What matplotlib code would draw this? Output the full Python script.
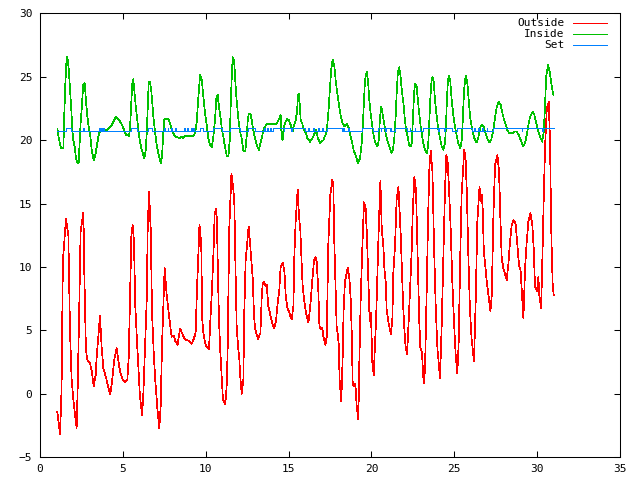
import matplotlib
matplotlib.use("Agg")
import matplotlib.pyplot as plt

# Outside temperature (red) at its turning points
outside_t = [1.04, 1.21, 1.30, 1.38, 1.57, 1.71, 1.81, 1.91, 2.03, 2.21, 2.27, 2.37, 2.45, 2.62,
             2.67, 2.77, 2.85, 3.02, 3.12, 3.24, 3.36, 3.42, 3.52, 3.62, 3.72, 3.82, 4.02, 4.14,
             4.24, 4.36, 4.48, 4.63, 4.75, 4.83, 4.99, 5.13, 5.27, 5.35, 5.43, 5.51, 5.59, 5.67,
             5.75, 5.87, 6.03, 6.16, 6.24, 6.34, 6.44, 6.50, 6.58, 6.68, 6.76, 6.88, 6.96, 7.08,
             7.20, 7.28, 7.36, 7.44, 7.52, 7.64, 7.72, 7.80, 7.94, 8.08, 8.15, 8.30, 8.45, 8.60,
             8.75, 8.95, 9.15, 9.27, 9.39, 9.47, 9.55, 9.62, 9.68, 9.74, 9.78, 9.84, 9.94, 10.04,
             10.20, 10.26, 10.38, 10.48, 10.54, 10.64, 10.68, 10.74, 10.80, 10.88, 10.96, 11.04,
             11.18, 11.26, 11.32, 11.38, 11.42, 11.55, 11.67, 11.73, 11.79, 11.87, 11.97, 12.03,
             12.09, 12.17, 12.27, 12.33, 12.41, 12.47, 12.59, 12.67, 12.77, 12.83, 12.91, 12.97,
             13.05, 13.16, 13.30, 13.38, 13.44, 13.52, 13.62, 13.68, 13.78, 13.92, 14.02, 14.12,
             14.24, 14.32, 14.44, 14.52, 14.65, 14.75, 14.83, 14.93, 15.05, 15.13, 15.19, 15.29,
             15.35, 15.43, 15.55, 15.63, 15.71, 15.79, 15.85, 15.95, 16.05, 16.20, 16.34, 16.44,
             16.54, 16.62, 16.70, 16.80, 16.86, 16.94, 17.04, 17.10, 17.22, 17.30, 17.40, 17.52,
             17.64, 17.70, 17.76, 17.82, 17.90, 17.96, 18.02, 18.08, 18.18, 18.26, 18.32, 18.40,
             18.57, 18.67, 18.75, 18.81, 18.87, 18.95, 19.03, 19.11, 19.21, 19.27, 19.35, 19.43,
             19.49, 19.55, 19.65, 19.73, 19.81, 19.87, 19.91, 19.97, 20.05, 20.14, 20.20, 20.28,
             20.36, 20.44, 20.54, 20.62, 20.72, 20.78, 20.86, 20.92, 21.02, 21.12, 21.18, 21.26,
             21.32, 21.42, 21.52, 21.63, 21.69, 21.77, 21.85, 21.93, 21.99, 22.05, 22.15, 22.23,
             22.33, 22.43, 22.49, 22.59, 22.69, 22.75, 22.81, 22.89, 22.95, 23.05, 23.15, 23.23,
             23.33, 23.42, 23.50, 23.58, 23.68, 23.78, 23.88, 23.98, 24.14, 24.24, 24.34, 24.44,
             24.52, 24.60, 24.68, 24.78, 24.88, 24.98, 25.08, 25.18, 25.26, 25.36, 25.44, 25.60,
             25.68, 25.76, 25.84, 25.94, 26.04, 26.19, 26.29, 26.39, 26.52, 26.58, 26.66, 26.72,
             26.78, 26.86, 26.96, 27.06, 27.18, 27.26, 27.36, 27.46, 27.60, 27.70, 27.78, 27.86,
             27.96, 28.16, 28.26, 28.36, 28.46, 28.58, 28.70, 28.82, 28.90, 29.00, 29.17, 29.27,
             29.37, 29.47, 29.59, 29.71, 29.79, 29.87, 29.99, 30.07, 30.13, 30.24, 30.32, 30.40,
             30.48, 30.58, 30.70, 30.78, 30.84, 30.88, 30.94, 31.00]
outside_v = [-1.4, -3.15, 0.3, 10.5, 13.8, 12.5, 4.9, 1.1, -0.7, -2.7, 0.3, 6.9, 12.8, 14.3,
             9.8, 3.5, 2.7, 2.4, 1.8, 0.6, 1.5, 2.9, 4.5, 6.15, 3.7, 2.05, 1.1, 0.4,
             0.0, 1.1, 2.7, 3.6, 2.4, 1.8, 1.1, 0.9, 1.1, 2.8, 7.4, 12.4, 13.3, 12.0,
             6.9, 3.7, -0.2, -1.65, 0.1, 3.7, 7.4, 13.2, 15.9, 13.0, 6.4, 2.7, 1.0, -1.1,
             -2.7, -1.0, 3.7, 6.9, 9.9, 7.9, 6.9, 6.0, 4.5, 4.6, 4.2, 3.85, 5.15, 4.7,
             4.3, 4.2, 3.94, 4.3, 4.8, 8.2, 10.8, 13.3, 12.7, 11.1, 6.1, 4.95, 4.15, 3.73,
             3.55, 5.3, 8.3, 11.6, 14.2, 14.6, 13.3, 9.25, 5.83, 3.33, 1.5, -0.47,
             -0.8, 0.5, 3.2, 9.5, 13.05, 17.33, 16.1, 14.9, 10.3, 5.18, 3.47, 2.7,
             1.24, 0.0, 1.1, 6.6, 10.56, 11.4, 13.2, 12.0, 10.2, 9.25, 6.36, 5.2,
             4.8, 4.33, 4.8, 7.7, 8.7, 8.85, 8.5, 8.6, 6.9, 6.1, 5.57, 5.18,
             5.7, 6.9, 8.2, 10.0, 10.35, 9.6, 7.7, 6.8, 6.4, 6.0, 5.9, 6.9,
             10.95, 13.7, 16.1, 13.97, 12.9, 10.2, 8.5, 7.3, 6.36, 5.62, 7.4, 9.1,
             10.56, 10.77, 10.4, 7.94, 5.36, 5.1, 5.2, 4.5, 3.86, 4.5, 11.9, 15.7,
             16.86, 16.4, 11.9, 8.98, 5.3, 4.8, 4.0, 1.1, -0.6, 2.7, 6.6, 8.85,
             9.95, 9.1, 7.4, 4.8, 0.7, 0.57, 0.8, -1.0, -2.0, 2.55, 7.4, 10.8,
             12.9, 15.1, 14.6, 12.4, 8.98, 6.6, 5.7, 6.4, 2.55, 1.47, 3.47, 5.83,
             9.5, 13.05, 16.8, 13.05, 11.6, 9.9, 8.85, 6.6, 5.7, 5.04, 4.73, 5.83,
             9.5, 11.6, 15.3, 16.3, 14.7, 12.4, 9.25, 6.5, 5.04, 3.86, 3.13, 5.3,
             8.2, 11.35, 14.3, 17.08, 16.0, 12.7, 9.6, 5.57, 3.7, 3.2, 0.84, 1.8,
             7.9, 14.0, 18.0, 19.15, 17.5, 11.5, 6.75, 3.6, 1.24, 5.44, 10.95, 16.2,
             18.83, 18.2, 16.2, 13.05, 8.85, 5.7, 3.1, 1.63, 3.9, 10.95, 15.7, 19.23,
             18.6, 15.7, 11.2, 6.75, 4.38, 2.55, 7.28, 13.6, 16.34, 15.2, 15.7, 14.4,
             11.2, 10.2, 8.85, 7.8, 6.5, 7.8, 14.1, 18.05, 18.83, 17.5, 13.85, 10.7,
             9.9, 8.98, 10.2, 12.0, 13.3, 13.7, 13.4, 11.5, 10.2, 9.7, 5.96, 9.9,
             12.0, 13.6, 14.24, 13.3, 11.5, 8.46, 8.1, 9.2, 7.8, 6.75, 10.95, 15.7,
             19.6, 22.5, 23.03, 19.6, 13.6, 11.2, 8.46, 7.8]

# Inside temperature (green): (day, deg C)
inside = [(1.05, 20.86), (1.10, 20.41), (1.20, 19.75), (1.27, 19.36), (1.41, 19.36), (1.47, 22.25),
          (1.53, 24.48), (1.59, 26.06), (1.65, 26.58), (1.73, 25.66), (1.81, 23.96), (1.89, 22.38),
          (1.95, 20.8), (2.01, 20.0), (2.09, 19.49), (2.17, 18.57), (2.27, 18.18), (2.33, 18.18),
          (2.37, 19.23), (2.45, 21.33), (2.51, 22.38), (2.61, 24.35), (2.70, 24.48), (2.78, 23.0),
          (2.86, 21.85), (2.96, 20.8), (3.04, 20.28), (3.12, 19.23), (3.24, 18.39), (3.34, 18.83),
          (3.44, 19.62), (3.54, 20.41), (3.64, 20.8), (3.78, 20.86), (4.02, 20.8), (4.22, 21.0),
          (4.34, 21.2), (4.47, 21.59), (4.59, 21.85), (4.71, 21.7), (4.83, 21.46), (4.95, 21.2),
          (5.07, 20.8), (5.19, 20.41), (5.37, 20.33), (5.43, 20.94), (5.49, 22.51), (5.57, 24.48),
          (5.63, 24.8), (5.71, 23.69), (5.79, 22.51), (5.87, 21.59), (5.95, 20.67), (6.03, 19.88),
          (6.14, 19.23), (6.30, 18.57), (6.38, 19.23), (6.44, 20.54), (6.50, 22.64), (6.56, 24.6),
          (6.62, 24.6), (6.70, 24.09), (6.78, 22.9), (6.84, 21.85), (6.94, 20.67), (7.04, 19.62),
          (7.14, 18.97), (7.28, 18.18), (7.36, 18.7), (7.44, 20.54), (7.50, 21.65), (7.75, 21.65),
          (7.85, 21.33), (7.95, 20.8), (8.09, 20.41), (8.25, 20.23), (8.45, 20.15), (8.57, 20.28),
          (8.65, 20.15), (8.75, 20.33), (8.95, 20.33), (9.25, 20.33), (9.35, 20.54), (9.45, 21.33),
          (9.56, 23.43), (9.66, 25.14), (9.76, 24.75), (9.86, 23.43), (9.96, 22.12), (10.06, 21.2),
          (10.16, 20.15), (10.26, 19.62), (10.36, 19.44), (10.46, 20.28), (10.56, 21.59), (10.64, 23.3),
          (10.72, 23.56), (10.80, 22.64), (10.90, 21.72), (10.98, 20.8), (11.06, 20.28), (11.16, 19.49),
          (11.27, 18.75), (11.37, 18.75), (11.45, 20.0), (11.51, 22.9), (11.57, 25.0), (11.63, 26.53),
          (11.71, 26.32), (11.77, 25.0), (11.83, 23.69), (11.91, 22.51), (11.99, 21.46), (12.07, 20.67),
          (12.17, 20.15), (12.27, 19.15), (12.39, 19.15), (12.47, 20.28), (12.53, 21.46), (12.59, 22.04),
          (12.71, 22.04), (12.79, 21.46), (12.87, 20.8), (12.97, 20.15), (13.08, 19.62), (13.20, 19.23),
          (13.28, 19.62), (13.38, 20.15), (13.48, 20.8), (13.58, 21.07), (13.68, 21.28), (14.28, 21.28),
          (14.44, 21.72), (14.52, 21.99), (14.58, 20.28), (14.64, 20.0), (14.70, 20.94), (14.78, 21.33),
          (14.89, 21.65), (15.01, 21.59), (15.13, 21.2), (15.25, 20.67), (15.33, 21.2), (15.43, 21.59),
          (15.51, 22.25), (15.57, 23.56), (15.61, 23.64), (15.67, 22.9), (15.73, 21.59), (15.83, 21.28),
          (15.93, 20.8), (16.05, 20.54), (16.13, 20.15), (16.29, 19.88), (16.43, 20.15), (16.53, 20.41),
          (16.66, 20.8), (16.76, 20.2), (16.90, 19.75), (17.10, 20.0), (17.26, 20.54), (17.34, 21.28),
          (17.42, 22.51), (17.50, 24.22), (17.58, 25.66), (17.66, 26.37), (17.76, 25.8), (17.84, 24.74),
          (17.94, 23.69), (18.04, 22.77), (18.14, 21.99), (18.26, 21.33), (18.38, 21.07), (18.50, 21.28),
          (18.62, 21.0), (18.72, 20.41), (18.82, 19.88), (18.92, 19.23), (19.07, 18.7), (19.19, 18.18),
          (19.31, 18.57), (19.41, 19.75), (19.47, 20.94), (19.55, 23.17), (19.61, 24.74), (19.71, 25.4),
          (19.79, 24.74), (19.87, 23.17), (19.95, 22.12), (20.03, 21.33), (20.11, 20.54), (20.21, 19.88),
          (20.36, 19.49), (20.44, 20.0), (20.52, 21.85), (20.60, 22.64), (20.68, 21.99), (20.78, 21.2),
          (20.86, 20.54), (20.98, 19.88), (21.12, 19.3), (21.22, 19.0), (21.30, 19.3), (21.38, 20.15),
          (21.46, 21.85), (21.52, 23.69), (21.59, 25.27), (21.67, 25.74), (21.75, 25.14), (21.83, 23.96),
          (21.93, 22.9), (22.01, 21.72), (22.09, 20.8), (22.19, 20.28), (22.27, 19.62), (22.37, 19.49),
          (22.43, 19.75), (22.51, 21.85), (22.57, 23.69), (22.63, 24.43), (22.73, 24.22), (22.81, 23.04),
          (22.89, 21.99), (22.97, 21.07), (23.05, 20.41), (23.13, 19.75), (23.24, 19.23), (23.34, 18.97),
          (23.42, 19.5), (23.50, 21.85), (23.56, 23.43), (23.62, 24.61), (23.68, 25.0), (23.76, 24.61),
          (23.84, 23.04), (23.94, 21.85), (24.04, 20.8), (24.14, 20.15), (24.24, 19.49), (24.34, 19.23),
          (24.44, 19.75), (24.50, 21.2), (24.56, 23.43), (24.62, 24.74), (24.68, 25.06), (24.76, 24.61),
          (24.84, 23.17), (24.94, 21.99), (25.04, 21.07), (25.14, 20.41), (25.24, 19.75), (25.37, 19.36),
          (25.45, 20.0), (25.51, 21.59), (25.59, 23.96), (25.65, 24.74), (25.71, 25.06), (25.79, 24.48),
          (25.87, 23.17), (25.95, 21.85), (26.05, 21.07), (26.15, 20.41), (26.25, 20.0), (26.35, 19.81),
          (26.45, 20.23), (26.55, 20.94), (26.65, 21.2), (26.75, 21.12), (26.86, 20.67), (26.96, 20.23),
          (27.10, 19.81), (27.22, 20.0), (27.32, 20.54), (27.40, 21.2), (27.48, 21.99), (27.56, 22.64),
          (27.68, 23.04), (27.80, 22.77), (27.88, 22.25), (27.98, 21.72), (28.08, 21.33), (28.20, 20.8),
          (28.32, 20.54), (28.49, 20.54), (28.61, 20.67), (28.77, 20.67), (28.89, 20.41), (29.01, 20.0),
          (29.13, 19.54), (29.27, 19.75), (29.37, 20.41), (29.47, 21.2), (29.57, 21.85), (29.73, 22.25),
          (29.83, 21.99), (29.93, 21.46), (30.05, 20.8), (30.17, 20.28), (30.30, 19.88), (30.40, 20.67),
          (30.48, 22.9), (30.54, 25.0), (30.66, 25.93), (30.76, 25.4), (30.84, 24.61), (30.92, 23.96),
          (30.98, 23.56)]

# Thermostat set point (blue): (day it changes, new value)
set_point = [(1.04, 20.73), (1.57, 20.94), (1.86, 20.73), (2.60, 20.94), (2.64, 20.73),
             (3.55, 20.94), (3.60, 20.73), (3.70, 20.94), (3.75, 20.73), (3.80, 20.94),
             (3.85, 20.73), (5.47, 20.94), (5.83, 20.73), (6.50, 20.94), (6.74, 20.73),
             (7.50, 20.94), (7.55, 20.73), (7.70, 20.94), (7.75, 20.73), (7.90, 20.94),
             (7.95, 20.73), (8.15, 20.94), (8.20, 20.73), (8.70, 20.94), (8.75, 20.73),
             (8.90, 20.94), (8.95, 20.73), (9.10, 20.94), (9.15, 20.73), (9.25, 20.94),
             (9.30, 20.73), (9.66, 20.94), (9.84, 20.73), (10.44, 20.94), (11.00, 20.73),
             (11.47, 20.94), (12.07, 20.73), (12.55, 20.94), (12.98, 20.73), (13.50, 20.94),
             (13.55, 20.73), (13.70, 20.94), (13.75, 20.73), (13.90, 20.94), (13.95, 20.73),
             (14.06, 20.94), (14.70, 20.73), (14.74, 20.94), (15.15, 20.73), (15.19, 20.94),
             (16.00, 20.73), (16.20, 20.94), (16.25, 20.73), (16.50, 20.94), (16.55, 20.73),
             (16.80, 20.94), (16.85, 20.73), (17.00, 20.94), (17.05, 20.73), (17.30, 20.94),
             (18.20, 20.73), (18.30, 20.94), (18.35, 20.73), (18.60, 20.94), (18.65, 20.73),
             (19.40, 20.94), (20.10, 20.73), (20.40, 20.94), (20.55, 20.73), (20.60, 20.94),
             (20.80, 20.73), (20.85, 20.94), (21.10, 20.73), (21.15, 20.94), (21.20, 20.73),
             (21.42, 20.94), (22.13, 20.73), (22.30, 20.94), (22.35, 20.73), (22.60, 20.94),
             (22.65, 20.73), (22.90, 20.94), (22.95, 20.73), (23.13, 20.94), (24.04, 20.73),
             (24.08, 20.94), (24.40, 20.73), (24.44, 20.94), (24.85, 20.73), (25.15, 20.94),
             (26.05, 20.73), (26.20, 20.94), (26.25, 20.73), (26.45, 20.94), (26.50, 20.73),
             (26.70, 20.94), (26.75, 20.73), (26.95, 20.94), (27.00, 20.73), (27.36, 20.94),
             (29.07, 20.73), (29.11, 20.94), (30.28, 20.73), (30.37, 20.94), (31.00, 20.94)]

series_labels = ['Outside', 'Inside', 'Set']
series_colors = ['#ff0000', '#00c000', '#0080ff']

x_ticks = list(range(0, 36, 5))
y_ticks = list(range(-5, 31, 5))

inside_t, inside_v = zip(*inside)
set_t, set_v = zip(*set_point)

plt.rcParams['font.family'] = 'DejaVu Sans Mono'
plt.rcParams['font.size'] = 8

fig = plt.figure(figsize=(6.4, 4.8), dpi=100)
ax = fig.add_axes([0.0625, 0.0473, 0.9063, 0.925])

line_w = 0.5  # thin, crisp lines like the original bitmap plot
ax.plot(outside_t, outside_v, color=series_colors[0], lw=line_w, antialiased=False)
ax.plot(inside_t, inside_v, color=series_colors[1], lw=line_w, antialiased=False)
ax.plot(set_t, set_v, color=series_colors[2], lw=line_w, drawstyle='steps-post', antialiased=False)

ax.set_xlim(0, 35)
ax.set_ylim(-5, 30)
ax.set_xticks(x_ticks)
ax.set_yticks(y_ticks)
ax.tick_params(direction='in', length=4.3, width=0.75, top=True, right=True, colors='black')
ax.tick_params(axis='y', pad=5.5)
ax.tick_params(axis='x', pad=5)
for s in ax.spines.values():
    s.set_linewidth(0.75)

# gnuplot style key: right-aligned text followed by a line sample
for row, (label, color) in enumerate(zip(series_labels, series_colors)):
    y = 0.978 - 0.0248 * row
    ax.text(0.905, y, label, transform=ax.transAxes, ha='right', va='center')
    ax.plot([0.919, 0.978], [y, y], transform=ax.transAxes, color=color, lw=line_w, antialiased=False)

fig.savefig('out.png', dpi=100)
